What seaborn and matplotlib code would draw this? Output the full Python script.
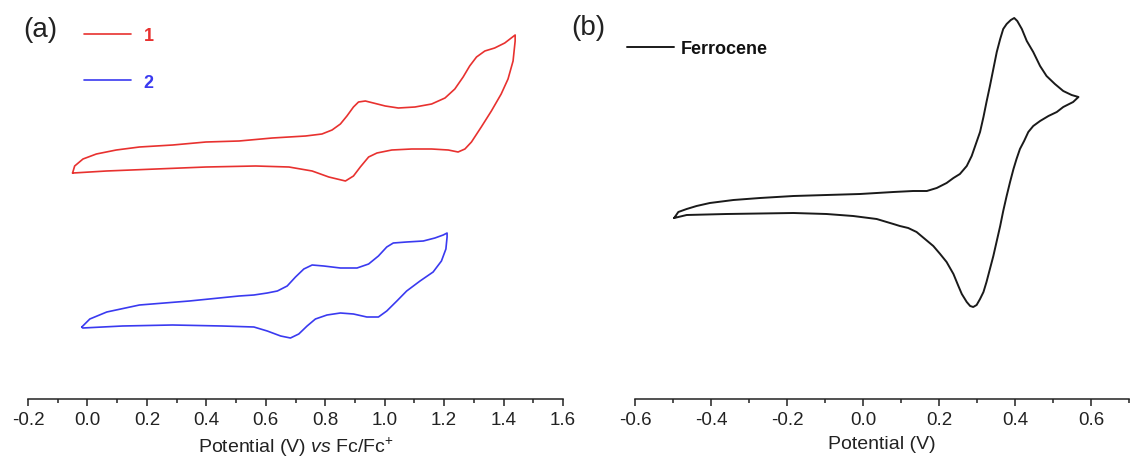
import numpy as np
import pandas as pd
import matplotlib
matplotlib.use("Agg")
import matplotlib.pyplot as plt
from matplotlib.ticker import AutoMinorLocator
import seaborn as sns

# ---------------- data ----------------
# Complex 1: potential (V vs Fc/Fc+) and current (a.u.), closed CV loop
pot_1 = [-0.050, -0.043, -0.015, 0.030, 0.097, 0.175, 0.287, 0.399, 0.510, 0.622,
         0.734, 0.789, 0.823, 0.851, 0.873, 0.895, 0.912, 0.935, 0.962, 1.002,
         1.046, 1.102, 1.158, 1.203, 1.236, 1.264, 1.286, 1.309, 1.337, 1.370,
         1.404, 1.439,
         1.439, 1.432, 1.415, 1.392, 1.359, 1.325, 1.292, 1.270, 1.247, 1.214,
         1.158, 1.091, 1.024, 0.974, 0.946, 0.918, 0.895, 0.868, 0.840, 0.812,
         0.756, 0.678, 0.566, 0.399, 0.231, 0.064, -0.048, -0.050]
cur_1 = [226, 233, 240, 245, 249, 252, 254, 257, 258, 261,
         263, 265, 269, 275, 283, 292, 297, 298, 296, 293,
         291, 292, 295, 301, 310, 322, 333, 342, 348, 351,
         356, 364,
         358, 338, 320, 305, 288, 272, 257, 250, 247, 249,
         250, 250, 249, 246, 242, 232, 223, 218, 220, 222,
         228, 232, 233, 232, 230, 228, 226, 226]

# Complex 2
pot_2 = [-0.019, 0.008, 0.065, 0.175, 0.343, 0.510, 0.560, 0.605, 0.639, 0.672,
         0.700, 0.728, 0.756, 0.795, 0.851, 0.907, 0.946, 0.979, 1.007, 1.029,
         1.074, 1.130, 1.169, 1.197, 1.210,
         1.210, 1.206, 1.191, 1.163, 1.119, 1.074, 1.041, 1.007, 0.979, 0.940,
         0.895, 0.851, 0.806, 0.767, 0.739, 0.711, 0.683, 0.650, 0.605, 0.560,
         0.453, 0.286, 0.118, -0.016, -0.019]
cur_2 = [72, 80, 87, 94, 98, 103, 104, 106, 108, 113,
         122, 130, 134, 133, 131, 131, 135, 143, 152, 156,
         157, 158, 161, 164, 166,
         162, 150, 138, 127, 118, 108, 98, 88, 82, 82,
         85, 86, 84, 80, 73, 65, 61, 63, 68, 72,
         73, 74, 73, 71, 72]

# Ferrocene: potential (V) and current (a.u.)
pot_fc = [-0.497, -0.486, -0.464, -0.438, -0.403, -0.341, -0.271, -0.183, -0.096, -0.008,
          0.080, 0.132, 0.168, 0.194, 0.220, 0.238, 0.255, 0.273, 0.286, 0.297,
          0.308, 0.317, 0.325, 0.334, 0.343, 0.352, 0.361, 0.369, 0.378, 0.389,
          0.398, 0.406, 0.418, 0.431, 0.448, 0.466, 0.483, 0.505, 0.527, 0.549,
          0.567,
          0.553, 0.527, 0.510, 0.488, 0.466, 0.448, 0.435, 0.424, 0.413, 0.404,
          0.396, 0.387, 0.378, 0.369, 0.361, 0.352, 0.343, 0.334, 0.325, 0.317,
          0.308, 0.299, 0.290, 0.282, 0.273, 0.260, 0.251, 0.238, 0.220, 0.203,
          0.185, 0.163, 0.141, 0.119, 0.097, 0.080, 0.036, -0.026, -0.096, -0.183,
          -0.359, -0.464, -0.497]
cur_fc = [181, 187, 190, 193, 196, 199, 201, 203, 204, 205,
          207, 208, 208, 211, 216, 221, 225, 233, 243, 255,
          267, 282, 297, 313, 330, 347, 360, 370, 375, 379,
          381, 378, 370, 358, 347, 333, 323, 315, 308, 304,
          302,
          297, 292, 287, 283, 278, 273, 267, 258, 250, 240,
          230, 217, 203, 188, 173, 158, 143, 130, 117, 107,
          100, 94, 92, 93, 97, 105, 113, 125, 137, 145,
          153, 160, 167, 171, 173, 175, 180, 183, 185, 186,
          185, 184, 181]

labels_a = ["1", "2"]
colors_a = ["#e8312f", "#3a3af0"]
ticks_a = [-0.2, 0.0, 0.2, 0.4, 0.6, 0.8, 1.0, 1.2, 1.4, 1.6]
ticks_b = [-0.6, -0.4, -0.2, 0.0, 0.2, 0.4, 0.6]

# ---------------- style ----------------
sns.set_theme(style="ticks")
plt.rcParams["font.family"] = ["Liberation Sans", "DejaVu Sans"]
plt.rcParams["mathtext.fontset"] = "custom"
plt.rcParams["mathtext.rm"] = "Liberation Sans"
plt.rcParams["mathtext.it"] = "Liberation Sans:italic"
plt.rcParams["axes.unicode_minus"] = False

W, H = 1130, 460
fig = plt.figure(figsize=(W / 100, H / 100), dpi=100)
fig.patch.set_facecolor("white")

ax1 = fig.add_axes([28 / W, 60 / H, (563 - 28) / W, 400 / H])
ax2 = fig.add_axes([635 / W, 60 / H, (1129 - 635) / W, 400 / H])

df_a = pd.concat([
    pd.DataFrame({"E": pot_1, "I": cur_1, "sample": labels_a[0]}),
    pd.DataFrame({"E": pot_2, "I": cur_2, "sample": labels_a[1]}),
], ignore_index=True)
df_b = pd.DataFrame({"E": pot_fc, "I": cur_fc, "sample": "Ferrocene"})

sns.lineplot(data=df_a, x="E", y="I", hue="sample", palette=colors_a, sort=False,
             estimator=None, units="sample", lw=1.2, ax=ax1,
             solid_joinstyle="round", solid_capstyle="round")
sns.lineplot(data=df_b, x="E", y="I", hue="sample", palette=["#1a1a1a"], sort=False,
             estimator=None, lw=1.4, ax=ax2,
             solid_joinstyle="round", solid_capstyle="round")

for ax, ticks, xl in [(ax1, ticks_a, (-0.2, 1.6)), (ax2, ticks_b, (-0.6, 0.7))]:
    ax.set_xlim(*xl)
    ax.set_ylim(0, 400)
    ax.set_xticks(ticks)
    ax.set_xticklabels([f"{t:.1f}" for t in ticks])
    ax.xaxis.set_minor_locator(AutoMinorLocator(2))
    ax.set_yticks([])
    ax.set_ylabel("")
    ax.set_facecolor("none")
    for s in ["left", "right", "top"]:
        ax.spines[s].set_visible(False)
    ax.spines["bottom"].set_linewidth(1.1)
    ax.spines["bottom"].set_color("#222222")
    ax.tick_params(axis="x", which="major", direction="out", length=5, width=1.1,
                   labelsize=13.5, pad=4, color="#222222", labelcolor="#222222")
    ax.tick_params(axis="x", which="minor", direction="out", length=3, width=1.1,
                   color="#222222")

ax1.set_xlabel("Potential (V) $\\it{vs}$ Fc/Fc$^{+}$", fontsize=14, labelpad=4.5, color="#222222")
ax2.set_xlabel("Potential (V)", fontsize=14, labelpad=4.5, color="#222222")

# legends
h, l = ax1.get_legend_handles_labels()
leg1 = ax1.legend(h, l, loc="upper left", bbox_to_anchor=(84 / W, 1 - 28 / H),
                  bbox_transform=fig.transFigure, frameon=False, handlelength=2.6,
                  handletextpad=0.7, labelspacing=1.65, borderpad=0, borderaxespad=0,
                  prop={"weight": "bold", "size": 13})
for t, c in zip(leg1.get_texts(), colors_a):
    t.set_color(c)

h, l = ax2.get_legend_handles_labels()
leg2 = ax2.legend(h, l, loc="upper left", bbox_to_anchor=(627 / W, 1 - 41 / H),
                  bbox_transform=fig.transFigure, frameon=False, handlelength=2.6,
                  handletextpad=0.4, borderpad=0, borderaxespad=0,
                  prop={"weight": "bold", "size": 13})
for t in leg2.get_texts():
    t.set_color("#111111")

fig.text(40 / W, 1 - 30 / H, "(a)", fontsize=20, ha="center", va="center", color="#222222")
fig.text(588 / W, 1 - 28 / H, "(b)", fontsize=20, ha="center", va="center", color="#222222")

fig.savefig("out.png", dpi=100, facecolor="white")
